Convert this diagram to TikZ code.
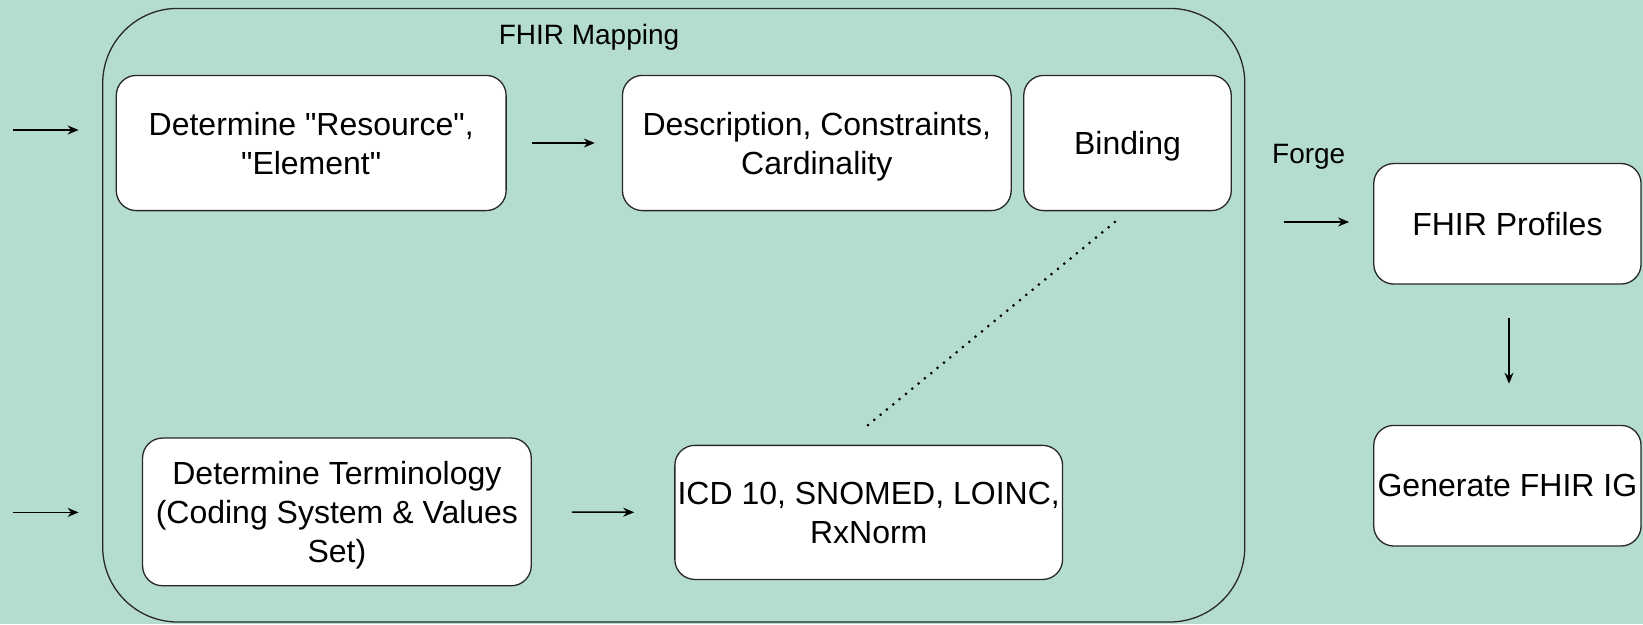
\documentclass[tikz,border=0pt]{standalone}
\usepackage{fontspec}
\setmainfont{Liberation Sans}
\usetikzlibrary{arrows.meta,calc}
\definecolor{bgmint}{RGB}{180,221,208}
\definecolor{edge}{RGB}{40,40,40}
\newcommand{\sq}{\XeTeXglyph\XeTeXcharglyph"22\relax}
\newcommand{\tp}{\rule{0pt}{30.3pt}}
\newcommand{\bt}{\rule[-6.8pt]{0pt}{6.8pt}}
\begin{document}
\begin{tikzpicture}[x=1pt,y=-1pt,
  box/.style={draw=edge,fill=white,line width=1.3pt,rounded corners=20pt,inner sep=0pt,align=center,font=\fontsize{32}{38.8}\selectfont},
  lbl/.style={inner sep=0pt,font=\fontsize{28}{34}\selectfont},
  arr/.style={draw=black,line width=1.5pt,-{Stealth[length=11pt,width=9pt]}},
  dotline/.style={draw=black,line width=3pt,line cap=round,dash pattern=on 0pt off 8.2pt}]
\fill[bgmint] (0,0) rectangle (1643,624);
\useasboundingbox (0,0) rectangle (1643,624);
% container
\draw[draw=edge,line width=1.3pt,rounded corners=75pt] (102.7,8.4) rectangle (1244.8,622);
\node[lbl] (title) at (589,37) {FHIR Mapping};
% boxes
\node[box,minimum width=389.8pt,minimum height=135.2pt] (b1) at (311.2,143) {\tp Determine \sq Resource\sq ,\\\sq Element\sq\bt};
\node[box,minimum width=388.7pt,minimum height=135.2pt] (b2) at (816.8,143) {\tp Description, Constraints,\\Cardinality\bt};
\node[box,minimum width=207.5pt,minimum height=135.2pt] (b3) at (1127.5,143) {\tp Binding\bt};
\node[box,minimum width=388.7pt,minimum height=147.7pt] (b4) at (336.9,511.9) {\tp Determine Terminology\\(Coding System \& Values\\Set)\bt};
\node[box,minimum width=387.7pt,minimum height=134.1pt] (b5) at (868.7,512.4) {\tp ICD 10, SNOMED, LOINC,\\RxNorm\bt};
\node[box,minimum width=267.3pt,minimum height=120.5pt] (b6) at (1507.4,223.8) {\tp FHIR Profiles\bt};
\node[box,minimum width=267.3pt,minimum height=120.6pt] (b7) at (1507.4,485.7) {Generate FHIR IG};
\node[lbl] (forge) at (1308.7,157) {Forge};
% free ends
\coordinate (in1s) at (12.6,130);
\coordinate (in1e) at (78.6,130);
\coordinate (in2s) at (12.6,512.4);
\coordinate (in2e) at (78.6,512.4);
\coordinate (fs) at (1283.6,222);
\coordinate (d1) at (1114.9,222);
\coordinate (d2) at (867.6,425.4);
% connectors
\draw[arr] (in1s) -- (in1e);
\draw[arr] (in2s) -- (in2e);
\draw[arr,shorten <=25pt,shorten >=27pt] (b1.east) -- (b2.west);
\draw[arr,shorten <=40pt,shorten >=40pt] (b4.east) -- (b5.west);
\draw[arr,shorten >=24pt] (fs) -- (fs -| b6.west);
\draw[arr,shorten <=33.5pt,shorten >=41pt] ([xshift=1.6pt]b6.south) -- ([xshift=1.6pt]b7.north);
\draw[dotline] (d1) -- (d2);
\end{tikzpicture}
\end{document}
